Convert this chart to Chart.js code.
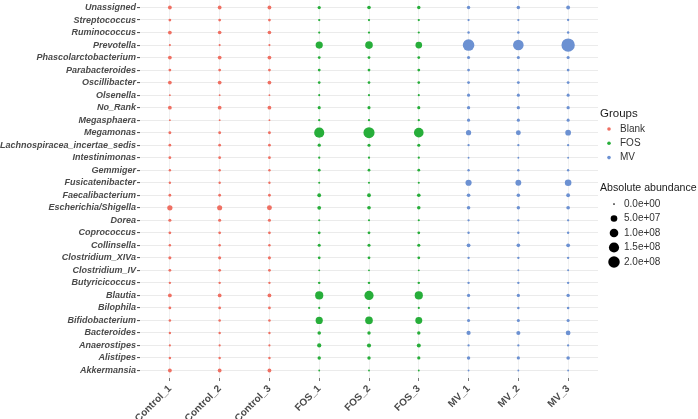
<!DOCTYPE html>
<html>
<head>
<meta charset="utf-8">
<script src="https://cdn.jsdelivr.net/npm/chart.js@4.4.1/dist/chart.umd.min.js"></script>
<style>
  html, body { margin: 0; padding: 0; background: #ffffff; }
  #wrap { position: relative; width: 698px; height: 419px; }
</style>
</head>
<body>
<div id="wrap"><canvas id="chart" width="698" height="419"></canvas></div>
<script>
// Genera, top to bottom as in the figure
const genera = [
    'Unassigned', 'Streptococcus', 'Ruminococcus', 'Prevotella', 'Phascolarctobacterium',
    'Parabacteroides', 'Oscillibacter', 'Olsenella', 'No_Rank', 'Megasphaera',
    'Megamonas', 'Lachnospiracea_incertae_sedis', 'Intestinimonas', 'Gemmiger', 'Fusicatenibacter',
    'Faecalibacterium', 'Escherichia/Shigella', 'Dorea', 'Coprococcus', 'Collinsella',
    'Clostridium_XIVa', 'Clostridium_IV', 'Butyricicoccus', 'Blautia', 'Bilophila',
    'Bifidobacterium', 'Bacteroides', 'Anaerostipes', 'Alistipes', 'Akkermansia'
];

const samples = ['Control_1', 'Control_2', 'Control_3', 'FOS_1', 'FOS_2', 'FOS_3', 'MV_1', 'MV_2', 'MV_3'];
const groupNames = ['Blank', 'FOS', 'MV'];
const groupColors = ['#EF6F62', '#27AE3A', '#6C91D2'];

// Absolute abundance per sample (millions), same order as genera
const control1 = [9, 2.4, 9, 0.4, 9, 2.4, 9, 0.05, 9, 0.05, 3, 2.4, 2.4, 1, 1, 2.4, 26, 4, 2.4, 1.3, 4, 2.4, 1, 9, 2.4, 1.5, 1, 0.5, 1.3, 9];
const control2 = [9, 2.4, 8, 0.4, 9, 2.4, 9, 0.05, 9, 0.05, 3, 2.4, 2.4, 1, 1, 2.4, 24, 4, 2.4, 1.3, 4, 2.4, 1, 9, 2.4, 1.5, 1, 0.5, 1.3, 9];
const control3 = [9, 2.4, 8, 0.4, 9, 2.4, 9, 0.05, 9, 0.05, 3, 2.4, 2.4, 1, 1, 2.4, 22, 4, 2.4, 1.3, 4, 2.4, 1, 9, 2.4, 1.5, 1, 0.5, 1.3, 9];
const fos1 = [5, 0.7, 0.5, 63, 2.4, 2.4, 2, 0.3, 4, 0.7, 148, 5, 0.7, 2.4, 0.3, 9, 9, 0.4, 2.4, 4, 2.4, 0.1, 1.3, 87, 0.4, 63, 7, 13, 6, 0.05];
const fos2 = [8, 0.7, 0.5, 74, 2.4, 2.4, 2, 0.3, 4, 0.7, 184, 4, 0.7, 2.4, 0.3, 9, 8, 0.4, 2.4, 4, 2.4, 0.1, 1.3, 116, 0.4, 74, 6, 12, 6, 0.05];
const fos3 = [6, 0.7, 0.4, 52, 2.4, 2.4, 2, 0.3, 4, 0.7, 131, 4, 0.7, 2.4, 0.3, 8, 7, 0.4, 2.4, 4, 2.4, 0.1, 1.3, 87, 0.4, 58, 6, 11, 5, 0.05];
const mv1 = [6, 0.7, 1.3, 204, 4, 2.4, 3, 4, 5, 4, 26, 0.7, 0.05, 1, 42, 8, 7, 0.8, 1, 9, 1, 0.2, 1, 5, 1.3, 4, 13, 0.8, 6, 0.05];
const mv2 = [6, 0.7, 1.3, 166, 4, 2.4, 3, 4, 5, 4, 22, 0.7, 0.05, 1, 36, 7, 6, 0.8, 1, 8, 1, 0.2, 1, 5, 1.3, 4, 12, 0.8, 5, 0.05];
const mv3 = [9, 0.8, 1.3, 283, 4, 2.4, 3, 4, 5, 4, 33, 0.7, 0.05, 1, 50, 9, 8, 0.8, 1, 9, 1, 0.2, 1, 6, 1.3, 4, 19, 0.8, 7, 0.05];

const sampleValues = [control1, control2, control3, fos1, fos2, fos3, mv1, mv2, mv3];
const sampleGroup = [0, 0, 0, 1, 1, 1, 2, 2, 2];

// Size legend breaks
const sizeBreaks = [0, 5e7, 1e8, 1.5e8, 2e8];
const sizeLabels = ['0.0e+00', '5.0e+07', '1.0e+08', '1.5e+08', '2.0e+08'];
const UNIT = 1e6;

// area scaled bubble radius
function radiusFor(v) {
    return 0.85 + 4.9 * Math.sqrt(Math.max(v, 0) / 2e8);
}

const n = genera.length;
const labelColor = '#4a4a4a';

// one dataset per group so points of a group share a colour
const datasets = groupNames.map((name, g) => {
    const pts = [];
    sampleValues.forEach((vals, s) => {
        if (sampleGroup[s] !== g) return;
        vals.forEach((v, i) => {
            pts.push({ x: s, y: n - 1 - i, r: radiusFor(v * UNIT) });
        });
    });
    return {
        label: name,
        data: pts,
        backgroundColor: groupColors[g],
        borderWidth: 0,
        hoverRadius: 0,
        clip: false
    };
});

// legend drawn on the right side
const sideLegend = {
    id: 'sideLegend',
    afterDraw(chart) {
        const ctx = chart.ctx;
        ctx.save();
        ctx.textBaseline = 'middle';
        ctx.textAlign = 'left';
        ctx.fillStyle = '#1a1a1a';
        ctx.font = '11.5px "Liberation Sans", Arial, sans-serif';
        ctx.fillText('Groups', 600, 114);
        ctx.font = '10px "Liberation Sans", Arial, sans-serif';
        groupNames.forEach((name, g) => {
            const y = 129 + g * 14.3;
            ctx.fillStyle = groupColors[g];
            ctx.beginPath();
            ctx.arc(609, y, 1.8, 0, Math.PI * 2);
            ctx.fill();
            ctx.fillStyle = '#333333';
            ctx.fillText(name, 620, y);
        });
        ctx.fillStyle = '#1a1a1a';
        ctx.font = '10.6px "Liberation Sans", Arial, sans-serif';
        ctx.fillText('Absolute abundance', 600, 188);
        ctx.font = '10px "Liberation Sans", Arial, sans-serif';
        sizeBreaks.forEach((b, k) => {
            const y = 204 + k * 14.5;
            ctx.fillStyle = '#000000';
            ctx.beginPath();
            ctx.arc(614, y, radiusFor(b), 0, Math.PI * 2);
            ctx.fill();
            ctx.fillStyle = '#333333';
            ctx.fillText(sizeLabels[k], 624, y);
        });
        ctx.restore();
    }
};

const ctx = document.getElementById('chart').getContext('2d');
new Chart(ctx, {
    type: 'bubble',
    data: { datasets: datasets },
    options: {
        responsive: false,
        animation: false,
        events: [],
        layout: { autoPadding: false, padding: { left: 0, top: 0, right: 100, bottom: 0 } },
        plugins: {
            legend: { display: false },
            tooltip: { enabled: false }
        },
        scales: {
            x: {
                type: 'linear',
                min: -0.6,
                max: 8.6,
                afterBuildTicks: (scale) => {
                    scale.ticks = samples.map((_, i) => ({ value: i }));
                },
                afterFit: (scale) => {
                    scale.height = 41;
                    scale.paddingLeft = 0;
                    scale.paddingRight = 0;
                },
                border: { display: false },
                grid: {
                    color: '#EDEDED',
                    lineWidth: 0.8,
                    tickColor: '#555555',
                    tickLength: 3
                },
                ticks: {
                    autoSkip: false,
                    minRotation: 45,
                    maxRotation: 45,
                    padding: 2,
                    color: labelColor,
                    font: { family: '"Liberation Sans", Arial, sans-serif', size: 10, weight: 'bold' },
                    callback: (v) => samples[v]
                }
            },
            y: {
                type: 'linear',
                min: -0.6,
                max: n - 0.4,
                afterBuildTicks: (scale) => {
                    scale.ticks = genera.map((_, i) => ({ value: i }));
                },
                afterFit: (scale) => {
                    scale.width = 140;
                    scale.paddingTop = 0;
                    scale.paddingBottom = 0;
                },
                border: { display: false },
                grid: {
                    color: '#EBEBEB',
                    lineWidth: 1.1,
                    tickColor: '#555555',
                    tickLength: 3
                },
                ticks: {
                    autoSkip: false,
                    padding: 1,
                    color: labelColor,
                    font: { family: '"Liberation Sans", Arial, sans-serif', size: 9, weight: 'bold', style: 'italic' },
                    callback: (v) => genera[n - 1 - v]
                }
            }
        }
    },
    plugins: [sideLegend]
});
</script>
</body>
</html>
